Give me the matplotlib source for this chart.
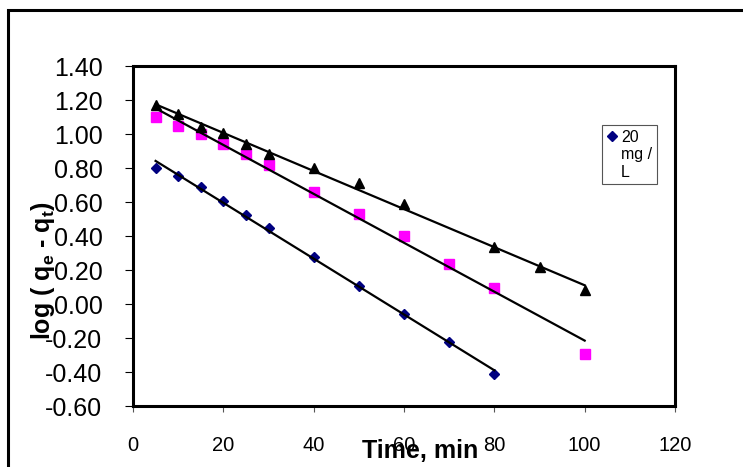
import numpy as np
import matplotlib
matplotlib.use("Agg")
import matplotlib.pyplot as plt
from matplotlib.patches import Rectangle
from matplotlib.lines import Line2D
from matplotlib.legend_handler import HandlerLine2D

plt.rcParams['font.family'] = ['Liberation Sans', 'DejaVu Sans']
plt.rcParams['mathtext.fontset'] = 'custom'
plt.rcParams['mathtext.rm'] = 'Liberation Sans'
plt.rcParams['mathtext.bf'] = 'Liberation Sans:bold'

# data
t_20 = [5, 10, 15, 20, 25, 30, 40, 50, 60, 70, 80]
log_20 = [0.80, 0.755, 0.69, 0.605, 0.525, 0.45, 0.275, 0.105, -0.06, -0.225, -0.41]

t_sq = [5, 10, 15, 20, 25, 30, 40, 50, 60, 70, 80, 100]
log_sq = [1.10, 1.05, 1.00, 0.94, 0.88, 0.82, 0.66, 0.53, 0.40, 0.235, 0.095, -0.295]

t_tri = [5, 10, 15, 20, 25, 30, 40, 50, 60, 80, 90, 100]
log_tri = [1.17, 1.115, 1.04, 1.005, 0.94, 0.885, 0.80, 0.71, 0.59, 0.335, 0.215, 0.08]

x_ticks = [0, 20, 40, 60, 80, 100, 120]
y_ticks = [-0.6, -0.4, -0.2, 0.0, 0.2, 0.4, 0.6, 0.8, 1.0, 1.2, 1.4]

fig = plt.figure(figsize=(7.43, 4.67), dpi=100)
ax = fig.add_axes([133/743, 61/467, 542/743, 340/467])

# outer chart frame (clipped by canvas on right/bottom)
fig.patches.append(Rectangle((8/743, -0.1), 1.2, (457/467) + 0.1,
                             transform=fig.transFigure, fill=False,
                             edgecolor='black', linewidth=2.2))


def trend(ax, x, y):
    k, b = np.polyfit(x, y, 1)
    xs = np.array([min(x), max(x)])
    ax.plot(xs, k*xs + b, color='black', linewidth=1.6, zorder=3)


ax.plot(t_20, log_20, 'D', color='#000080', markersize=4.8, linestyle='none', zorder=2)
ax.plot(t_sq, log_sq, 's', color='#FF00FF', markersize=7, linestyle='none', zorder=2)
ax.plot(t_tri, log_tri, '^', color='black', markersize=7.5, linestyle='none', zorder=2)
trend(ax, t_20, log_20)
trend(ax, t_sq, log_sq)
trend(ax, t_tri, log_tri)

ax.set_xlim(0, 120)
ax.set_ylim(-0.6, 1.4)
ax.set_xticks(x_ticks)
ax.set_yticks(y_ticks)
ax.set_yticklabels(['%.2f' % v for v in y_ticks])
ax.tick_params(axis='x', direction='out', length=4.5, width=0.8, pad=17, labelsize=14.5, color='#555555')
ax.tick_params(axis='y', direction='out', length=6, width=0.8, pad=16, labelsize=18)
for s in ax.spines.values():
    s.set_linewidth(2.2)

ax.set_xlabel('Time, min', fontsize=18, fontweight='bold', va='center')
ax.xaxis.set_label_coords((420-133)/542, (406-451)/340)
ax.set_ylabel(r'log ( q$_\mathbf{e}$ - q$_\mathbf{t}$)', fontsize=18, fontweight='bold', va='center')
ax.yaxis.set_label_coords((43-133)/542, (406-270)/340)


# put the legend marker next to the first line of the wrapped label
class TopMarker(HandlerLine2D):
    def create_artists(self, legend, orig_handle, xdescent, ydescent,
                       width, height, fontsize, trans):
        arts = super().create_artists(legend, orig_handle, xdescent, ydescent,
                                      width, height, fontsize, trans)
        for a in arts:
            a.set_ydata(np.asarray(a.get_ydata()) + 1.2*fontsize)
        return arts


handle = Line2D([], [], marker='D', color='#000080', markersize=4.8, linestyle='none')
leg = ax.legend([handle], ['20\nmg /\nL'], loc='upper left',
                bbox_to_anchor=((602-133)/542, (406-125)/340),
                handler_map={Line2D: TopMarker()},
                fontsize=11.5, handlelength=0.7, handletextpad=0.2, borderpad=0.3,
                fancybox=False, framealpha=1, edgecolor='#555555', borderaxespad=0)
leg.get_frame().set_linewidth(0.8)

fig.savefig('out.png', dpi=100)
